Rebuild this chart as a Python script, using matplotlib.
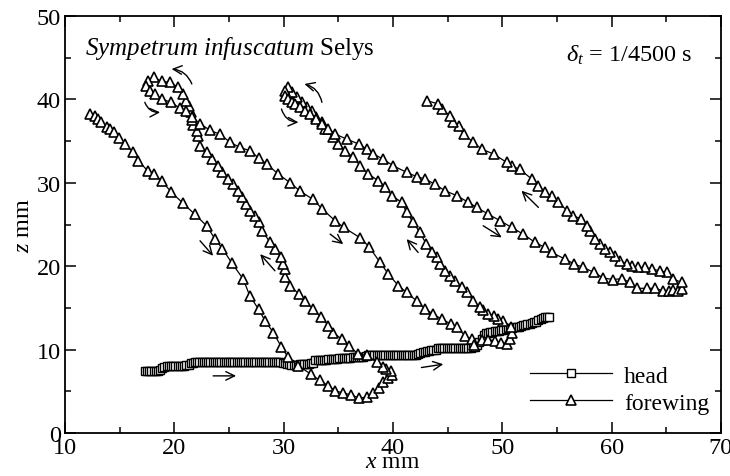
import matplotlib
matplotlib.use('Agg')
import matplotlib.pyplot as plt
from matplotlib.ticker import MultipleLocator

plt.rcParams['font.family'] = ['Liberation Serif', 'DejaVu Serif']
plt.rcParams['mathtext.fontset'] = 'custom'
plt.rcParams['mathtext.rm'] = 'Liberation Serif'
plt.rcParams['mathtext.it'] = 'Liberation Serif:italic'

# ---------------- data (mm) ----------------
head_x = [17.3, 17.5, 17.7, 17.9, 18.1, 18.3, 18.5, 18.7,
          18.9, 19.1, 19.3,
          19.5, 19.7, 19.9, 20.1, 20.3, 20.5, 20.7, 20.9, 21.1, 21.3,
          21.5, 21.7, 21.9,
          22.1, 22.3, 22.5, 22.7, 22.9, 23.1, 23.3, 23.5, 23.7, 23.9,
          24.1, 24.3, 24.5, 24.7, 24.9, 25.1, 25.3, 25.5, 25.7, 25.9,
          26.1, 26.3, 26.5, 26.7, 26.9, 27.1, 27.3, 27.5, 27.7, 27.9,
          28.1, 28.3, 28.5, 28.7, 28.9, 29.1, 29.3, 29.5, 29.7, 29.9,
          30.1, 30.3, 30.5, 30.7, 30.9, 31.1, 31.3, 31.5, 31.7, 31.9,
          32.1, 32.3, 32.5, 32.7,
          32.9, 33.1, 33.3, 33.5, 33.7, 33.9, 34.1, 34.3, 34.5, 34.7, 34.9, 35.1,
          35.3, 35.5, 35.7, 35.9, 36.1, 36.3, 36.5, 36.7, 36.9, 37.1, 37.3, 37.5,
          37.7, 37.9, 38.1, 38.3, 38.5, 38.7, 38.9, 39.1, 39.3, 39.5, 39.7, 39.9,
          40.1, 40.3, 40.5, 40.7, 40.9, 41.1, 41.3, 41.5, 41.7, 41.9, 42.1, 42.3,
          42.5, 42.7, 42.9, 43.1, 43.3, 43.5, 43.7, 43.9,
          44.1, 44.3, 44.5, 44.7, 44.9, 45.1, 45.3, 45.5, 45.7, 45.9,
          46.1, 46.3, 46.5, 46.7, 46.9, 47.1, 47.3, 47.5,
          47.7, 47.9, 48.1, 48.3, 48.5, 48.7, 48.9, 49.1, 49.3, 49.5,
          49.7, 49.9, 50.1, 50.3, 50.5, 50.7, 50.9, 51.1, 51.3, 51.5,
          51.7, 51.9, 52.1, 52.3, 52.5, 52.7, 52.9, 53.1, 53.3, 53.5,
          53.7, 53.9, 54.1, 54.3]
head_z = [7.45, 7.45, 7.45, 7.45, 7.45, 7.45, 7.45, 7.5,
          7.85, 7.9, 8.0,
          8.05, 8.05, 8.05, 8.05, 8.05, 8.05, 8.05, 8.05, 8.1, 8.15,
          8.35, 8.45, 8.5,
          8.55, 8.55, 8.55, 8.55, 8.55, 8.55, 8.55, 8.55, 8.55, 8.55,
          8.55, 8.55, 8.55, 8.55, 8.55, 8.55, 8.55, 8.55, 8.55, 8.55,
          8.55, 8.55, 8.55, 8.55, 8.55, 8.55, 8.55, 8.55, 8.55, 8.55,
          8.55, 8.55, 8.55, 8.55, 8.55, 8.55, 8.55, 8.55, 8.5, 8.45,
          8.4, 8.3, 8.25, 8.2, 8.2, 8.2, 8.2, 8.25, 8.25, 8.3,
          8.3, 8.3, 8.35, 8.45,
          8.75, 8.8, 8.8, 8.8, 8.8, 8.8, 8.85, 8.85, 8.85, 8.9, 8.9, 8.95,
          9.05, 9.05, 9.05, 9.05, 9.05, 9.1, 9.1, 9.1, 9.1, 9.1, 9.15, 9.2,
          9.3, 9.3, 9.3, 9.3, 9.3, 9.3, 9.3, 9.3, 9.3, 9.3, 9.3, 9.3,
          9.3, 9.3, 9.3, 9.3, 9.3, 9.3, 9.3, 9.3, 9.3, 9.3, 9.35, 9.45,
          9.6, 9.7, 9.75, 9.8, 9.85, 9.9, 9.95, 10.0,
          10.25, 10.25, 10.25, 10.25, 10.25, 10.25, 10.25, 10.25, 10.25, 10.25,
          10.25, 10.25, 10.25, 10.25, 10.25, 10.25, 10.3, 10.35,
          10.5, 10.9, 11.3, 11.7, 11.95, 12.05, 12.1, 12.15, 12.2, 12.25,
          12.25, 12.3, 12.4, 12.5, 12.55, 12.6, 12.6, 12.65, 12.7, 12.7,
          12.8, 12.9, 12.95, 13.05, 13.1, 13.2, 13.25, 13.35, 13.5, 13.65,
          13.75, 13.85, 13.85, 13.85]

wing_x = [12.3, 12.7, 13.05, 13.3, 13.8, 14.1, 14.45, 14.9, 15.45, 16.25,
          16.7, 17.55, 18.1, 18.85, 19.7, 20.75, 21.85, 22.95, 23.7, 24.4,
          25.25, 26.3, 26.9, 27.7, 28.3, 29.05, 29.8, 30.4, 31.35, 32.5,
          33.3, 34.1, 34.7, 35.45, 36.2, 36.9, 37.6, 38.2, 38.7, 39.1,
          39.55, 39.9, 39.8, 39.4,
          39.1, 38.5, 37.6, 36.8, 35.95, 35.3, 34.55, 34.1, 33.45, 32.7,
          31.95, 31.4, 30.6, 30.1, 30.1, 29.95, 29.8, 29.2, 28.75, 28.05,
          27.7, 27.4, 26.9, 26.6, 26.15, 25.8, 25.4, 24.9, 24.4, 23.95,
          23.4, 22.95, 22.35, 22.2, 22.05, 21.75, 21.65, 21.5, 21.35, 21.1,
          20.8, 20.35, 19.6, 18.85, 18.1, 17.6, 17.45,
          17.75, 18.25, 18.85, 19.7, 20.5, 21.1, 21.6, 22.35, 23.25, 24.2,
          25.1, 26.0, 26.9, 27.7, 28.5, 29.5, 30.6, 31.5, 32.7, 33.5,
          34.7, 35.5, 37.0, 37.8, 38.8, 39.55, 40.5, 41.25, 42.15, 42.95,
          43.7, 44.45, 45.35, 45.85, 46.6, 47.2, 47.4,
          48.1, 48.7, 49.3, 49.9, 50.4, 50.7, 50.9, 50.75,
          50.1, 49.6, 49.2, 48.7, 48.25, 47.95, 47.35, 46.75, 46.3, 45.65,
          45.2, 44.75, 44.3, 44.0, 43.55, 43.05, 42.45, 41.85, 41.25, 40.8,
          39.9, 39.25, 38.65, 37.75, 37.0, 36.35, 35.6, 35.0, 34.55, 33.8,
          33.5, 33.0, 32.55, 32.1, 31.65, 31.2, 30.75, 30.4, 30.1, 30.1,
          30.4, 30.8, 31.05, 31.5, 31.95, 32.4, 33.0, 33.5, 34.1, 34.7,
          35.75, 36.85, 37.6, 38.2, 39.1, 40.0, 41.25, 42.15, 42.95, 43.8,
          44.75, 45.85, 46.9, 47.65, 48.7, 49.8, 50.85, 51.9, 53.0, 53.9,
          54.5, 55.75, 56.6, 57.4, 58.4, 59.2, 60.1, 60.9, 61.7, 62.3,
          63.2, 63.95, 64.7, 65.2, 65.65, 66.1, 66.4, 66.4,
          65.65, 65.05, 64.4, 63.65, 63.05, 62.45, 61.9, 61.4, 60.75, 60.3,
          59.85, 59.4, 58.95, 58.5, 58.0, 57.7, 57.2, 56.5, 55.95, 55.1,
          54.5, 53.9, 53.3, 52.7, 51.6, 50.85, 50.4, 49.2, 48.1, 47.35,
          46.45, 46.0, 45.5, 45.2, 44.45, 44.15, 43.1]
wing_z = [38.2, 38.0, 37.65, 37.3, 36.65, 36.45, 36.05, 35.35, 34.65, 33.65,
          32.65, 31.45, 31.05, 30.25, 28.9, 27.6, 26.25, 24.85, 23.3, 22.1,
          20.4, 18.45, 16.45, 14.85, 13.45, 12.05, 10.3, 9.1, 8.05, 7.05,
          6.3, 5.65, 5.05, 4.8, 4.55, 4.2, 4.3, 4.8, 5.45, 6.1,
          6.6, 7.0, 7.4, 7.65,
          7.9, 8.5, 9.3, 9.5, 10.45, 11.25, 12.05, 12.85, 13.85, 14.85,
          15.85, 16.65, 17.65, 18.65, 19.65, 20.25, 21.05, 22.05, 22.85, 24.25,
          25.25, 26.05, 26.65, 27.45, 28.25, 29.05, 29.85, 30.5, 31.3, 32.05,
          32.85, 33.65, 34.4, 35.6, 36.25, 36.9, 37.55, 38.45, 39.25, 39.85,
          40.65, 41.45, 42.05, 42.15, 42.65, 42.25, 41.65,
          41.05, 40.65, 40.05, 39.65, 38.95, 38.55, 37.85, 37.1, 36.3, 35.8,
          34.85, 34.25, 33.85, 33.0, 32.2, 31.05, 30.0, 29.0, 28.0, 26.9,
          25.45, 24.65, 23.4, 22.35, 20.5, 19.1, 17.65, 16.85, 15.85, 14.85,
          14.25, 13.65, 13.05, 12.65, 11.65, 11.25, 10.6,
          11.2, 11.2, 11.05, 10.85, 10.65, 11.3, 12.0, 12.7,
          13.45, 13.7, 14.05, 14.3, 14.7, 15.05, 15.85, 16.85, 17.45, 18.25,
          18.85, 19.45, 20.25, 21.05, 21.65, 22.65, 24.05, 25.25, 26.45, 27.65,
          28.45, 29.55, 30.25, 31.05, 32.05, 33.05, 33.85, 34.65, 35.45, 36.45,
          37.25, 37.85, 38.65, 39.05, 39.65, 40.25, 40.85, 41.45, 41.05, 40.45,
          40.05, 39.7, 39.45, 39.05, 38.65, 38.25, 37.65, 37.05, 36.45, 35.85,
          35.25, 34.65, 34.05, 33.45, 32.85, 32.05, 31.25, 30.75, 30.45, 29.85,
          29.05, 28.45, 27.65, 27.05, 26.25, 25.45, 24.65, 23.85, 22.85, 22.25,
          21.65, 20.85, 20.25, 19.85, 19.25, 18.6, 18.4, 18.5, 18.05, 17.35,
          17.35, 17.35, 17.05, 17.05, 17.2, 17.05, 17.3, 18.05,
          18.45, 19.25, 19.45, 19.65, 19.85, 19.85, 20.05, 20.25, 20.65, 21.25,
          21.65, 22.05, 22.65, 23.3, 24.25, 24.85, 25.65, 26.05, 26.65, 27.65,
          28.45, 28.85, 29.65, 30.45, 31.6, 32.05, 32.45, 33.45, 34.05, 34.85,
          35.85, 36.85, 37.25, 38.05, 38.85, 39.45, 39.85]

# direction arrows: tail, head and curvature
arrow_tail_x = [21.6, 17.3, 33.5, 29.8, 22.35, 29.2, 34.25, 42.3, 48.25, 53.3, 23.55, 42.6]
arrow_tail_z = [41.85, 39.65, 39.65, 38.85, 23.05, 19.45, 23.85, 21.65, 24.85, 27.05, 6.85, 7.85]
arrow_head_x = [19.75, 18.7, 31.9, 31.35, 23.55, 27.85, 35.45, 41.25, 49.95, 51.75, 25.65, 44.6]
arrow_head_z = [43.65, 38.45, 41.85, 37.25, 21.25, 21.45, 22.65, 23.25, 23.45, 29.05, 6.85, 8.25]
arrow_rad = [0.3, 0.35, 0.3, 0.35, 0, 0, 0, 0, 0, 0, 0, 0]

# ---------------- figure ----------------
fig = plt.figure(figsize=(7.3, 4.77), dpi=100)
ax = fig.add_axes([65 / 730, 43 / 477, 656 / 730, 417 / 477])

ax.plot(head_x, head_z, '-', color='black', lw=0.9, marker='s', ms=5.8,
        mfc='white', mec='black', mew=1.0, label='head')
ax.plot(wing_x, wing_z, '-', color='black', lw=0.9, marker='^', ms=7.5,
        mfc='white', mec='black', mew=1.2, label='forewing')

for tx, tz, hx, hz, r in zip(arrow_tail_x, arrow_tail_z, arrow_head_x,
                             arrow_head_z, arrow_rad):
    ax.annotate('', xy=(hx, hz), xytext=(tx, tz),
                arrowprops=dict(arrowstyle='->,head_length=0.45,head_width=0.22',
                                lw=1.0, color='black', shrinkA=0, shrinkB=0,
                                mutation_scale=14,
                                connectionstyle=f'arc3,rad={r}'))

ax.set_xlim(10, 70)
ax.set_ylim(0, 50)
ax.xaxis.set_major_locator(MultipleLocator(10))
ax.xaxis.set_minor_locator(MultipleLocator(5))
ax.yaxis.set_major_locator(MultipleLocator(10))
ax.yaxis.set_minor_locator(MultipleLocator(5))
ax.tick_params(which='both', direction='in', top=True, right=True, width=1.1)
ax.tick_params(which='major', length=8, labelsize=17.5, pad=3)
ax.tick_params(which='minor', length=4.5)
for s in ax.spines.values():
    s.set_linewidth(1.3)

ax.set_xlabel(r'$x$ mm', fontsize=17, labelpad=-5)
ax.set_ylabel(r'$z$ mm', fontsize=17.5, labelpad=2)

ax.text(11.83, 45.4, r'$\mathit{Sympetrum\ infuscatum}$ Selys',
        fontsize=18, va='baseline', ha='left')
ax.text(67.35, 44.6, r'$\delta_t$ = 1/4500 s', fontsize=17.5,
        va='baseline', ha='right')

ax.legend(loc='upper left', bbox_to_anchor=(0.709, 0.163), frameon=False,
          fontsize=17, handlelength=3.47, handletextpad=0.5, labelspacing=0.23,
          borderpad=0, borderaxespad=0, numpoints=1)

fig.savefig('out.png', dpi=100)
